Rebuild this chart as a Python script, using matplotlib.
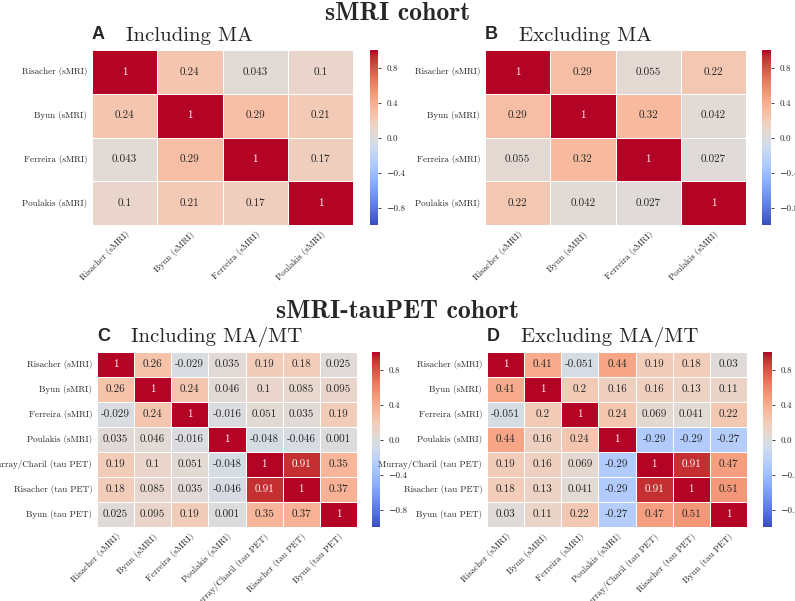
import numpy as np
import matplotlib
matplotlib.use("Agg")
import matplotlib.pyplot as plt
import seaborn as sns

plt.rcParams['font.family'] = ['cmr10', 'DejaVu Serif']
plt.rcParams['axes.formatter.use_mathtext'] = True
plt.rcParams['text.color'] = '#262626'
plt.rcParams['xtick.color'] = '#262626'
plt.rcParams['ytick.color'] = '#262626'

labels_smri = ["Risacher (sMRI)", "Byun (sMRI)", "Ferreira (sMRI)", "Poulakis (sMRI)"]
labels_tau = labels_smri + ["Murray/Charil (tau PET)", "Risacher (tau PET)", "Byun (tau PET)"]

corr_a = [[1, 0.24, 0.043, 0.1],
          [0.24, 1, 0.29, 0.21],
          [0.043, 0.29, 1, 0.17],
          [0.1, 0.21, 0.17, 1]]
corr_b = [[1, 0.29, 0.055, 0.22],
          [0.29, 1, 0.32, 0.042],
          [0.055, 0.32, 1, 0.027],
          [0.22, 0.042, 0.027, 1]]
corr_c = [[1, 0.26, -0.029, 0.035, 0.19, 0.18, 0.025],
          [0.26, 1, 0.24, 0.046, 0.1, 0.085, 0.095],
          [-0.029, 0.24, 1, -0.016, 0.051, 0.035, 0.19],
          [0.035, 0.046, -0.016, 1, -0.048, -0.046, 0.001],
          [0.19, 0.1, 0.051, -0.048, 1, 0.91, 0.35],
          [0.18, 0.085, 0.035, -0.046, 0.91, 1, 0.37],
          [0.025, 0.095, 0.19, 0.001, 0.35, 0.37, 1]]
corr_d = [[1, 0.41, -0.051, 0.44, 0.19, 0.18, 0.03],
          [0.41, 1, 0.2, 0.16, 0.16, 0.13, 0.11],
          [-0.051, 0.2, 1, 0.24, 0.069, 0.041, 0.22],
          [0.44, 0.16, 0.24, 1, -0.29, -0.29, -0.27],
          [0.19, 0.16, 0.069, -0.29, 1, 0.91, 0.47],
          [0.18, 0.13, 0.041, -0.29, 0.91, 1, 0.51],
          [0.03, 0.11, 0.22, -0.27, 0.47, 0.51, 1]]

W, H = 795, 601
fig = plt.figure(figsize=(W / 100, H / 100), dpi=100)


def rect(left, top, w, h):
    return [left / W, 1 - (top + h) / H, w / W, h / H]


panels = [
    ("A", "Including MA", corr_a, labels_smri, (92, 50, 261, 175), (370, 50, 8, 175)),
    ("B", "Excluding MA", corr_b, labels_smri, (485, 50, 261, 175), (762, 50, 9, 175)),
    ("C", "Including MA/MT", corr_c, labels_tau, (97, 352, 260, 175), (372, 352, 8, 175)),
    ("D", "Excluding MA/MT", corr_d, labels_tau, (487, 352, 260, 175), (763, 352, 9, 175)),
]

for letter, title, data, labels, axr, cbr in panels:
    ax = fig.add_axes(rect(*axr))
    cax = fig.add_axes(rect(*cbr))
    sns.heatmap(np.array(data), ax=ax, cbar_ax=cax, cmap="coolwarm", vmin=-1, vmax=1,
                annot=True, fmt=".2g", annot_kws={"fontsize": 8},
                linewidths=0.6, linecolor="white",
                xticklabels=labels, yticklabels=labels)
    ax.tick_params(length=0, labelsize=6.5)
    ax.set_xticklabels(labels, rotation=45, ha="right", rotation_mode="anchor")
    ax.set_yticklabels(labels, rotation=0)
    cax.tick_params(labelsize=6.5, length=2.5, width=0.6)
    cax.set_yticks([-0.8, -0.4, 0.0, 0.4, 0.8])
    cax.set_yticklabels(["\u22120.8", "\u22120.4", "0.0", "0.4", "0.8"])
    ax.text(0.0, 1.04, letter, transform=ax.transAxes, fontsize=13, fontweight="bold",
            family=["Liberation Sans", "DejaVu Sans"], ha="left", va="bottom")
    ax.text(0.13, 1.03, title, transform=ax.transAxes, fontsize=15, ha="left", va="bottom")

fig.text(0.5, 1 - 13 / H, "sMRI cohort", fontsize=18.5, ha="center", va="center",
         family=["cmb10", "DejaVu Serif"])
fig.text(0.5, 1 - 311 / H, "sMRI-tauPET cohort", fontsize=18.5, ha="center", va="center",
         family=["cmb10", "DejaVu Serif"])

fig.savefig("out.png", dpi=100)
